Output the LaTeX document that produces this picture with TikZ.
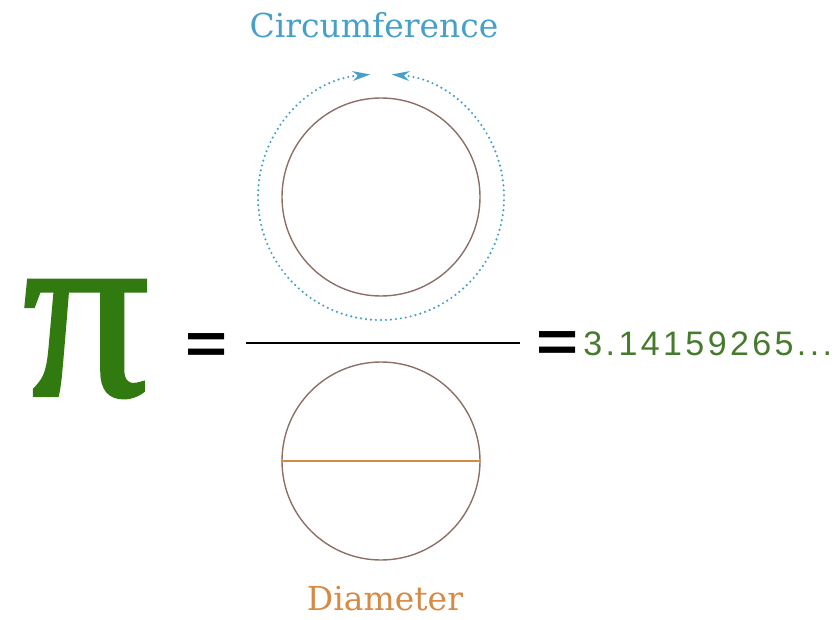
\documentclass[tikz,border=0pt]{standalone}
\usepackage{fontspec}
\setmainfont{DejaVu Serif}
\newfontfamily\eqfont{Liberation Sans}
\newfontfamily\pifont[FakeBold=1.5]{Liberation Serif}
\usetikzlibrary{arrows.meta, positioning}
\definecolor{pigreen}{RGB}{48,122,16}
\definecolor{numgreen}{RGB}{70,122,45}
\definecolor{circblue}{RGB}{70,160,200}
\definecolor{diamorange}{RGB}{215,138,70}
\definecolor{ringgray}{RGB}{140,112,102}
\tikzset{
    ring style/.style={draw=ringgray, line width=1.4pt, circle, minimum size=198pt, inner sep=0pt},
    label style/.style={font=\fontsize{33}{33}\selectfont, inner sep=0pt},
    equal style/.style={font=\eqfont\bfseries\fontsize{72}{72}\selectfont, inner sep=0pt},
    arrow style/.style={circblue, line width=2.4pt, line cap=round, dash pattern=on 0pt off 5pt, {Stealth[length=18pt, width=10pt, line width=0pt]}-{Stealth[length=18pt, width=10pt, line width=0pt]}},
}
\begin{document}
\begin{tikzpicture}[x=1pt, y=1pt]
        \useasboundingbox (0,0) rectangle (837,619);
        % circles
        \node (upper) [ring style] at (381,422) {};
        \node (lower) [ring style] at (381,158) {};
        \draw [arrow style] (upper.center) ++(95:123) arc[start angle=95, end angle=445, radius=123];
        \draw [diamorange, line width=2.4pt] (lower.west) -- (lower.east);

        % labels
        \node (circ) [label style, text=circblue] at (374,594) {Circumference};
        \node (diam) [label style, text=diamorange] at (385,20) {Diameter};

        % formula
        \node (pi) [font=\pifont\fontsize{250}{250}\selectfont, text=pigreen, inner sep=0pt] at (86,280) {π};
        \node (eqleft) [equal style] at (207,270.5) {\scalebox{1}[0.8]{=}};
        \coordinate (barleft) at (246,276);
        \coordinate (barright) at (520,276);
        \draw [line width=2.4pt] (barleft) -- (barright);
        \node (eqright) [equal style] at (558,272.5) {\scalebox{1}[0.8]{=}};
        \node (value) [right=4pt of eqright, yshift=3pt, font=\eqfont\fontsize{34}{34}\selectfont\addfontfeatures{LetterSpace=10}, text=numgreen, inner sep=0pt] {3.14159265...};
\end{tikzpicture}
\end{document}
